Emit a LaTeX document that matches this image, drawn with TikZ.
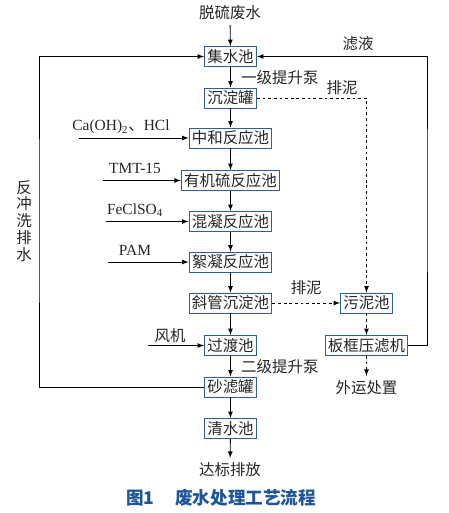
\documentclass[tikz,border=0pt]{standalone}
\usepackage{fontspec}
\setmainfont{Noto Sans CJK SC}
\newfontfamily\lat{Liberation Serif}
\usetikzlibrary{arrows,positioning,calc}
\definecolor{boxblue}{RGB}{40,95,165}
\definecolor{capblue}{RGB}{30,85,155}

\begin{document}
\begin{tikzpicture}[x=0.025cm,y=-0.025cm,>=latex,
  every node/.style={text=black!85,font=\fontsize{11}{13}\selectfont},
  unit/.style={draw=boxblue,line width=0.7pt,inner xsep=2pt,inner ysep=0pt,minimum height=0.5cm},
  flow/.style={->,line width=0.6pt},
  sludge/.style={->,line width=0.6pt,dash pattern=on 2pt off 2pt}]
\useasboundingbox (0,0) rectangle (448,513);
% main line
\node (tl) at (230,13) {脱硫废水};
\node[unit] (jsc) at (230.5,56.5) {集水池};
\node[unit] (cdg) at (230.5,98) {沉淀罐};
\node[unit] (zh) at (230.5,138) {中和反应池};
\node[unit] (yjl) at (230.5,180.5) {有机硫反应池};
\node[unit] (hn) at (230.5,221.5) {混凝反应池};
\node[unit] (xn) at (230.5,262) {絮凝反应池};
\node[unit] (xg) at (230.5,303) {斜管沉淀池};
\node[unit] (gd) at (230.5,345.5) {过渡池};
\node[unit] (slg) at (230.5,387) {砂滤罐};
\node[unit] (qs) at (230.5,428.5) {清水池};
\node (db) at (230,470) {达标排放};
% sludge line
\node[unit] (wn) at (366.5,303) {污泥池};
\node[unit] (bk) at (366.5,345.5) {板框压滤机};
\node (wy) at (366.5,388) {外运处置};

\draw[flow] (tl) -- (jsc);
\draw[flow] (jsc) -- node[right,xshift=4pt] {一级提升泵} (cdg);
\foreach \a/\b in {cdg/zh,zh/yjl,yjl/hn,hn/xn,xn/xg,xg/gd}
  \draw[flow] (\a) -- (\b);
\draw[flow] (gd) -- node[right,xshift=4pt] {二级提升泵} (slg);
\draw[flow] (slg) -- (qs);
\draw[flow] (qs) -- (db);

% dosing
\coordinate (in1) at (79,138);
\coordinate (in2) at (103,180.5);
\coordinate (in3) at (106,221.5);
\coordinate (in4) at (108,262);
\coordinate (in5) at (148,345.5);
\draw[flow] (in1) -- (zh);
\draw[flow] (in2) -- (yjl);
\draw[flow] (in3) -- (hn);
\draw[flow] (in4) -- (xn);
\draw[flow] (in5) -- (gd);
\node (l1) at (121,127) {{\lat Ca(OH)\textsubscript{2}}、{\lat HCl}};
\node (l2) at (135,168) {\lat TMT-15};
\node (l3) at (135,210) {\lat FeClSO\textsubscript{4}};
\node (l4) at (135,250) {\lat PAM};
\node (l5) at (170,336) {风机};

% returns
\coordinate (bw) at (39,220);
\coordinate (fe) at (427,200);
\draw[flow] (slg.west) -| (bw) |- (jsc.west);
\draw[flow] (bk.east) -| (fe) |- (jsc.east);
\node[align=center,font=\fontsize{11}{12}\selectfont] at (24,221) {反\\冲\\洗\\排\\水};
\node at (358,44) {滤液};

\draw[sludge] (cdg.east) -| (wn.north);
\node at (342,88) {排泥};
\draw[sludge] (xg) -- node[above,yshift=2pt] {排泥} (wn);
\draw[sludge] (wn) -- (bk);
\draw[sludge] (bk) -- (wy);

\node[font=\fontsize{12.5}{14}\selectfont\bfseries,text=capblue] at (221,498) {图1\hspace{1.2em}废水处理工艺流程};
\end{tikzpicture}
\end{document}
